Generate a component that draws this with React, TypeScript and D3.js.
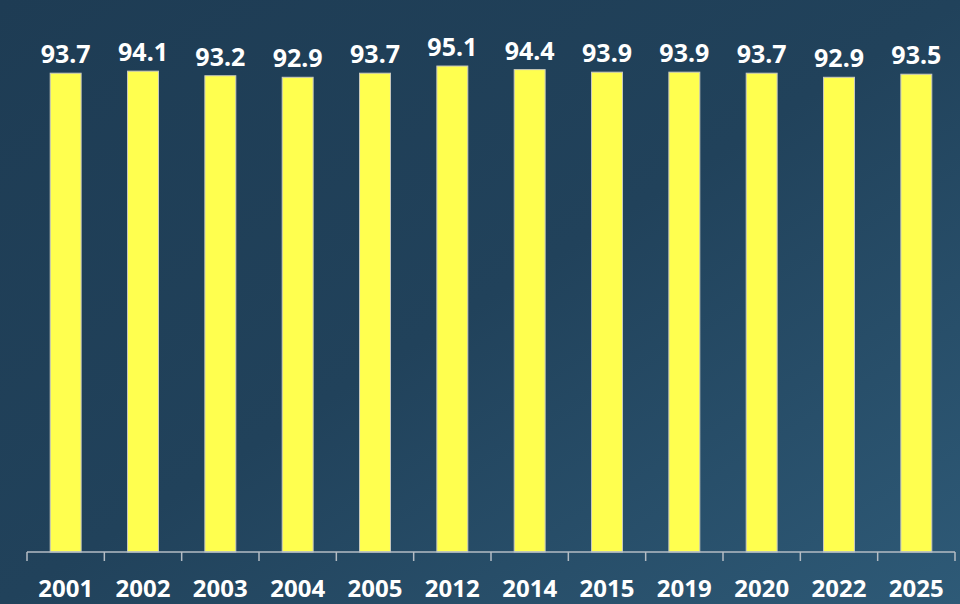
import React from "react";
import * as d3 from "d3";

const categories = ["2001", "2002", "2003", "2004", "2005", "2012", "2014", "2015", "2019", "2020", "2022", "2025"];
const values = [93.7, 94.1, 93.2, 92.9, 93.7, 95.1, 94.4, 93.9, 93.9, 93.7, 92.9, 93.5];
const yDomain = [0, 100];

const W = 960;
const H = 604;

export default function App() {
  const x = d3.scaleBand<string>().domain(categories).range([27, 955]).paddingInner(0.6).paddingOuter(0.3);
  const y = d3.scaleLinear().domain(yDomain).range([552, 41]);
  const step = x.step();
  const start = x.range()[0];
  const tickXs = d3.range(categories.length + 1).map((i) => start + i * step);
  const font = "'Noto Sans', 'Open Sans', sans-serif";

  return (
    <div style={{ position: "fixed", left: 0, top: 0 }}>
      <svg width={W} height={H} style={{ display: "block" }}>
        <defs>
          <linearGradient id="bg" x1="0" y1="0" x2="1" y2="1">
            <stop offset="0" stopColor="#1e3c54" />
            <stop offset="0.5" stopColor="#21425b" />
            <stop offset="1" stopColor="#2e5a77" />
          </linearGradient>
        </defs>
        <rect x={0} y={0} width={W} height={H} fill="url(#bg)" />
        {categories.map((c, i) => (
          <g key={c}>
            <rect
              x={x(c)}
              y={y(values[i])}
              width={x.bandwidth()}
              height={y(0) - y(values[i])}
              fill="#ffff4f"
              stroke="#c9c9c0"
              strokeWidth={1}
            />
            <text
              x={(x(c) as number) + x.bandwidth() / 2}
              y={y(values[i]) - 10}
              textAnchor="middle"
              fill="#ffffff"
              fontFamily={font}
              fontWeight={700}
              fontSize={25}
            >
              {values[i].toFixed(1)}
            </text>
            <text
              x={(x(c) as number) + x.bandwidth() / 2}
              y={597}
              textAnchor="middle"
              fill="#ffffff"
              fontFamily={font}
              fontWeight={700}
              fontSize={24}
            >
              {c}
            </text>
          </g>
        ))}
        <line x1={start} x2={start + step * categories.length} y1={y(0)} y2={y(0)} stroke="#b4bcc4" strokeWidth={1.5} />
        {tickXs.map((tx, i) => (
          <line key={i} x1={tx} x2={tx} y1={y(0)} y2={y(0) + 9} stroke="#b4bcc4" strokeWidth={1.5} />
        ))}
      </svg>
    </div>
  );
}
